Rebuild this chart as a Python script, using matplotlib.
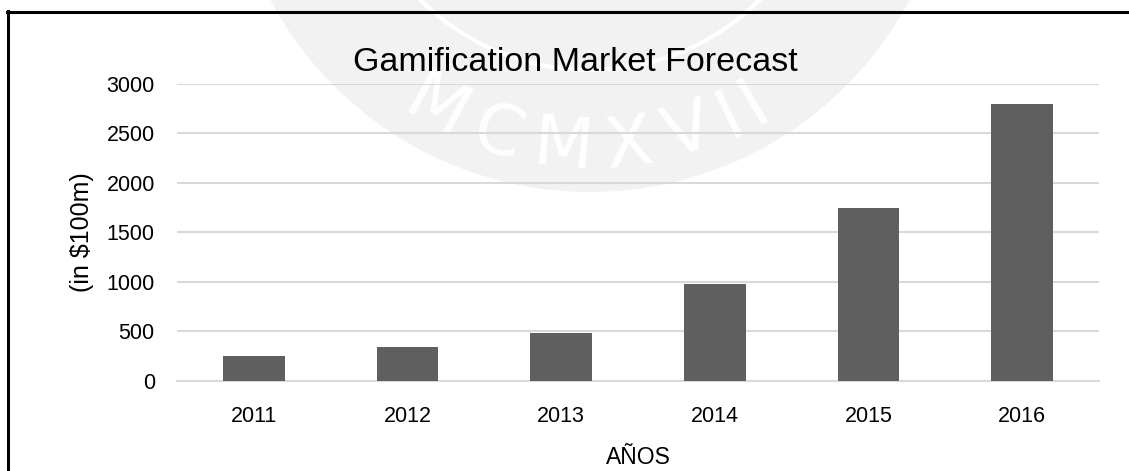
import numpy as np
import matplotlib
matplotlib.use("Agg")
import matplotlib.pyplot as plt
from matplotlib.patches import Circle
from matplotlib.lines import Line2D

# Data
years = ["2011", "2012", "2013", "2014", "2015", "2016"]
market = [245, 340, 485, 980, 1750, 2800]
y_ticks = [0, 500, 1000, 1500, 2000, 2500, 3000]

title = "Gamification Market Forecast"
x_label = "AÑOS"
y_label = "(in $100m)"

plt.rcParams["font.family"] = ["Liberation Sans", "DejaVu Sans"]

W, H = 1129, 471
fig = plt.figure(figsize=(W / 100, H / 100), dpi=100)
fig.patch.set_facecolor("white")

# faint seal watermark behind the chart
wm = fig.add_axes([0, 0, 1, 1], zorder=0)
wm.set_xlim(0, W)
wm.set_ylim(H, 0)
wm.axis("off")
cx, cy = 590, -170
wm.add_patch(Circle((cx, cy), 362, facecolor="#f2f2f2", edgecolor="none"))
wm.add_patch(Circle((cx, cy), 240, facecolor="none", edgecolor="white", lw=3))
letters = "MCMXVII"
angles = [-29, -17, -5, 7, 18, 26, 31]
for ch, a in zip(letters, angles):
    t = np.deg2rad(a)
    r = 318
    wm.text(cx + r * np.sin(t), cy + r * np.cos(t), ch, rotation=a,
            ha="center", va="center", fontsize=50, color="white",
            family="DejaVu Sans")

ax = fig.add_axes([177 / W, 1 - 380.7 / H, (1099 - 177) / W, (380.7 - 84) / H], zorder=1)
ax.patch.set_alpha(0)

x = np.arange(len(years))
ax.bar(x, market, width=0.40, color="#5f5f5f", zorder=3)

ax.set_xlim(-0.5, len(years) - 0.5)
ax.set_ylim(0, 3000)
ax.set_yticks(y_ticks)
ax.set_yticklabels([str(v) for v in y_ticks])
ax.set_xticks(x)
ax.set_xticklabels(years)

ax.yaxis.grid(True, color="#d9d9d9", linewidth=1.5, zorder=0)
ax.set_axisbelow(True)
for s in ["top", "right", "left"]:
    ax.spines[s].set_visible(False)
ax.spines["bottom"].set_color("#d9d9d9")
ax.spines["bottom"].set_linewidth(1.5)

ax.tick_params(axis="both", length=0, labelsize=15.5, colors="black")
ax.tick_params(axis="x", pad=18)
ax.tick_params(axis="y", pad=16)

ax.set_xlabel(x_label, fontsize=16.5, labelpad=14)
ax.set_ylabel(y_label, fontsize=18, labelpad=9)

fig.text(575 / W, 1 - 71 / H, title, fontsize=24.5, ha="center", va="baseline")

# outer frame: left and top edges
fig.add_artist(Line2D([8 / W, 8 / W], [0, 1 - 11 / H], color="black", lw=2.2,
                      transform=fig.transFigure))
fig.add_artist(Line2D([7 / W, 1], [1 - 11.5 / H, 1 - 11.5 / H], color="black", lw=2.2,
                      transform=fig.transFigure))

fig.savefig("out.png", dpi=100, facecolor="white")
